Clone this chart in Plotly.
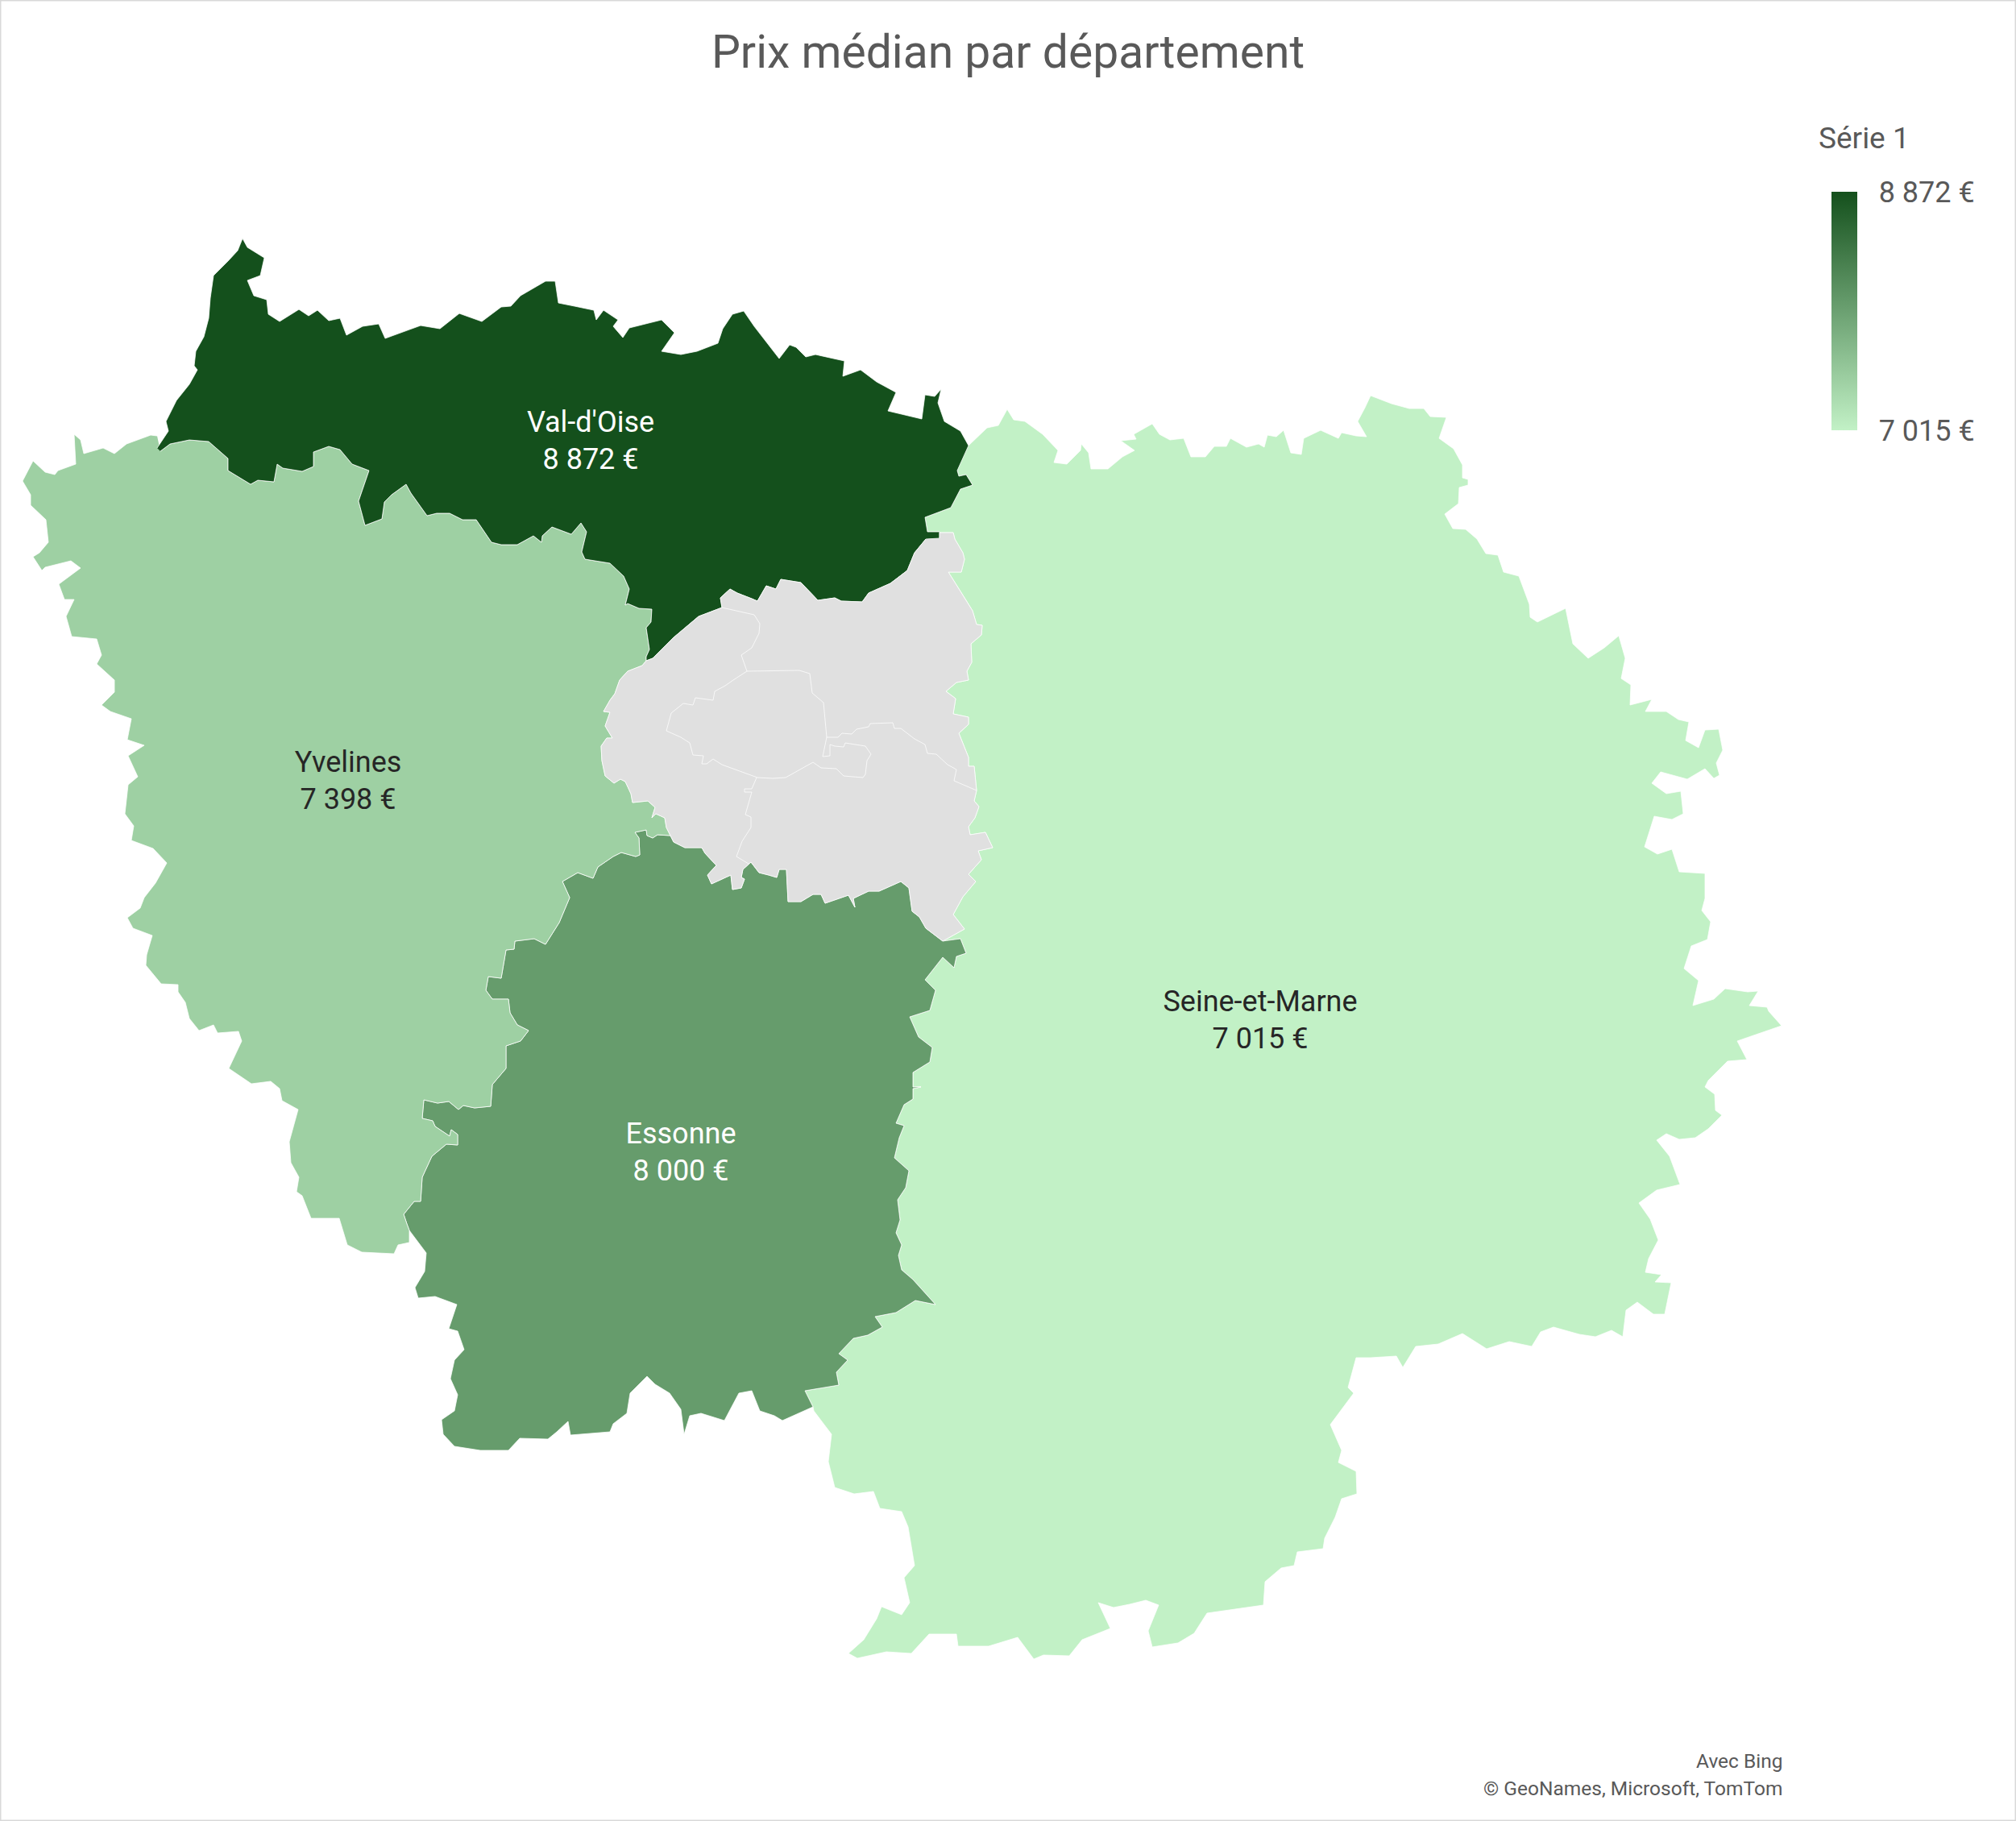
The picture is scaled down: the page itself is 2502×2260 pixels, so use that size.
import plotly.graph_objects as go
from plotly.colors import sample_colorscale

# Departments with a value
departments = ["Val-d'Oise", "Yvelines", "Essonne", "Seine-et-Marne"]
prices = [8872, 7398, 8000, 7015]
label_x = [733, 432, 845, 1564]
label_y = [550, 972, 1433, 1269]
scale_low = "#C2F1C6"
scale_high = "#14501C"

# Boundary arcs in projected map units (x east, y south)
vo_north = [(195,556),(209,535),(206,523),(219,497),(235,477),(245,459),(241,454),(243,436),(253,418),(259,395),(261,370),(265,342),(283,324),(295,311),(301,296),(307,307),(328,320),(323,342),(307,348),(315,367),(331,372),(333,390),(347,399),(371,384),(383,392),(394,385),(408,398),(422,395),(430,416),(450,405),(470,402),(478,420),(522,404),(546,408),(570,389),(598,399),(622,381),(634,380),(646,367),(677,349),(689,349),(693,376),(713,380),(737,385),(740,397),(749,385),(767,397),(761,405),(773,419),(781,407),(821,397),(837,413),(821,436),(845,440),(865,436),(891,426),(897,408),(909,390),(923,386),(936,405),(960,436),(967,445),(980,428),(988,431),(1000,443),(1012,440),(1048,448),(1046,467),(1068,459),(1088,474),(1112,487),(1102,510),(1144,520),(1148,490),(1160,492),(1168,483),(1164,500),(1172,523),(1192,535),(1202,553)]
vo_sm = [(1188,584),(1190,591),(1199,589),(1207,602),(1192,607),(1180,630),(1148,642),(1151,660),(1166,660),(1166,668)]
vo_grey = [(1149,669),(1135,686),(1126,708),(1105,724),(1078,736),(1070,747),(1044,746),(1036,742),(1015,745),(994,723),(969,719),(963,731),(951,727),(940,746),(933,743),(915,736),(906,731),(894,742),(896,754),(867,765),(835,792),(810,817),(802,820)]
vo_yv = [(802,815),(806,806),(802,779),(808,772),(809,756),(793,755),(779,749),(776,751),(781,731),(774,715),(757,699),(726,694),(722,685),(728,660),(721,649),(709,663),(685,654),(673,665),(672,673),(662,665),(642,676),(622,676),(610,673),(591,645),(574,645),(558,637),(542,637),(530,640),(510,612),(504,601),(486,614),(477,623),(474,644),(453,652),(445,622),(458,584),(437,576),(422,558),(408,554),(389,561),(389,579),(375,585),(351,581),(344,576),(340,598),(320,596),(311,601),(283,584),(283,569),(259,548),(235,546),(211,551),(199,560)]
yv_outer = [(195,541),(187,540),(157,551),(142,563),(128,556),(104,563),(100,546),(92,539),(94,576),(72,584),(68,589),(56,586),(41,572),(28,597),(38,614),(38,627),(57,645),(60,673),(49,686),(41,691),(52,708),(56,704),(88,696),(100,705),(73,725),(80,744),(92,744),(82,765),(89,790),(120,793),(126,813),(120,824),(142,844),(142,859),(126,875),(137,883),(163,892),(158,918),(179,925),(159,938),(171,964),(159,974),(155,1010),(166,1025),(163,1043),(190,1053),(207,1071),(193,1096),(179,1114),(174,1127),(158,1139),(165,1152),(189,1161),(182,1185),(181,1198),(200,1221),(221,1222),(221,1231),(230,1244),(235,1264),(247,1279),(265,1272),(270,1282),(296,1280),(300,1292),(284,1326),(312,1345),(336,1342),(347,1351),(350,1366),(370,1377),(359,1417),(361,1443),(371,1461),(368,1479),(375,1484),(386,1512),(421,1512),(431,1545),(449,1554),(489,1556),(494,1545),(508,1542)]
yv_ess = [(508,1527),(505,1519),(501,1507),(514,1491),(522,1491),(524,1461),(536,1435),(554,1420),(568,1421),(568,1408),(560,1402),(558,1410),(540,1398),(537,1391),(524,1388),(526,1365),(543,1369),(557,1367),(569,1377),(575,1372),(589,1375),(609,1373),(611,1346),(628,1326),(628,1298),(646,1292),(656,1279),(642,1272),(633,1257),(631,1240),(611,1240),(603,1229),(606,1212),(622,1214),(628,1179),(638,1178),(639,1168),(663,1165),(677,1172),(694,1145),(707,1114),(698,1094),(717,1083),(736,1090),(742,1076),(761,1063),(771,1058),(789,1063),(794,1061),(793,1040),(788,1033),(802,1030),(803,1037),(810,1040),(816,1036),(832,1037)]
yv_grey = [(802,820),(797,826),(779,833),(769,844),(763,861),(757,869),(749,883),(757,884),(751,901),(760,916),(753,916),(746,926),(747,944),(751,963),(762,972),(770,967),(776,970),(783,985),(785,996),(804,994),(813,1002),(809,1015),(814,1010),(825,1015),(827,1027),(832,1037)]
grey_ess = [(836,1045),(850,1052),(871,1052),(875,1059),(889,1074),(878,1086),(883,1097),(907,1086),(909,1104),(920,1102),(924,1091),(920,1089),(922,1079),(932,1070),(942,1083),(954,1086),(964,1089),(967,1079),(976,1079),(978,1119),(994,1119),(1009,1110),(1019,1110),(1024,1121),(1053,1111),(1061,1126),(1059,1115),(1078,1106),(1091,1106),(1118,1094),(1128,1102),(1132,1131),(1141,1138),(1149,1152),(1170,1168)]
grey_sm = [(1166,668),(1166,661),(1183,661),(1185,669),(1195,686),(1197,694),(1193,710),(1177,710),(1199,745),(1207,758),(1212,775),(1219,776),(1218,788),(1205,799),(1206,822),(1200,833),(1202,844),(1187,847),(1174,858),(1186,867),(1183,886),(1202,890),(1202,899),(1190,910),(1202,940),(1202,951),(1209,951),(1212,981),(1209,994),(1215,1001),(1210,1015),(1202,1026),(1204,1036),(1223,1033),(1232,1052),(1214,1056),(1218,1067),(1202,1085),(1211,1094),(1195,1113),(1183,1135),(1197,1153),(1170,1168)]
sm_outer = [(1202,553),(1225,531),(1239,528),(1250,508),(1258,521),(1272,523),(1294,539),(1313,559),(1308,574),(1324,576),(1341,559),(1342,551),(1351,562),(1354,582),(1375,582),(1393,567),(1408,559),(1391,547),(1410,545),(1407,539),(1430,526),(1439,539),(1452,546),(1469,544),(1478,567),(1496,567),(1507,554),(1522,554),(1527,544),(1547,555),(1562,551),(1569,555),(1573,540),(1584,542),(1593,534),(1602,562),(1615,564),(1618,544),(1639,534),(1661,544),(1665,537),(1683,541),(1696,542),(1685,523),(1694,506),(1701,491),(1727,501),(1749,507),(1767,507),(1775,517),(1795,518),(1786,544),(1804,557),(1815,577),(1815,593),(1822,595),(1822,602),(1811,605),(1810,625),(1793,638),(1803,656),(1819,657),(1833,669),(1844,687),(1859,689),(1866,710),(1885,715),(1898,750),(1899,766),(1908,772),(1943,755),(1952,799),(1971,817),(1991,804),(2009,789),(2017,817),(2012,842),(2024,850),(2023,875),(2050,868),(2042,883),(2068,883),(2083,893),(2096,896),(2092,919),(2108,928),(2116,906),(2133,905),(2138,931),(2130,947),(2134,962),(2127,966),(2116,954),(2094,967),(2061,958),(2050,972),(2068,985),(2086,982),(2089,1010),(2075,1017),(2053,1013),(2041,1051),(2057,1060),(2075,1054),(2084,1082),(2116,1084),(2116,1115),(2112,1130),(2123,1144),(2119,1166),(2099,1174),(2090,1202),(2108,1217),(2101,1248),(2127,1240),(2141,1227),(2169,1231),(2182,1230),(2171,1248),(2193,1250),(2195,1255),(2211,1273),(2156,1292),(2168,1315),(2144,1317),(2120,1341),(2116,1349),(2128,1358),(2129,1378),(2137,1384),(2120,1401),(2104,1412),(2084,1414),(2068,1407),(2056,1415),(2072,1435),(2085,1470),(2056,1477),(2034,1493),(2048,1513),(2058,1539),(2046,1562),(2042,1579),(2062,1582),(2054,1591),(2074,1592),(2066,1631),(2052,1631),(2032,1616),(2018,1626),(2014,1659),(2000,1651),(1980,1659),(1960,1656),(1928,1647),(1912,1653),(1901,1671),(1873,1665),(1845,1674),(1815,1655),(1785,1668),(1757,1671),(1741,1697),(1733,1683),(1701,1685),(1683,1685),(1673,1722),(1680,1729),(1651,1768),(1665,1800),(1661,1815),(1683,1826),(1684,1854),(1665,1860),(1657,1883),(1644,1909),(1642,1922),(1610,1926),(1606,1943),(1590,1946),(1570,1963),(1568,1992),(1498,2002),(1482,2027),(1462,2039),(1430,2044),(1425,2024),(1438,1992),(1422,1986),(1402,1991),(1382,1995),(1363,1989),(1378,2021),(1343,2035),(1327,2055),(1295,2054),(1283,2059),(1263,2032),(1227,2043),(1189,2043),(1187,2028),(1153,2028),(1131,2052),(1100,2050),(1064,2058),(1053,2052),(1072,2035),(1088,2009),(1094,1994),(1119,2004),(1129,1989),(1122,1958),(1135,1943),(1127,1895),(1119,1876),(1092,1872),(1084,1851),(1060,1854),(1036,1846),(1028,1814),(1032,1780),(1010,1751),(1009,1746)]
ess_sm = [(1009,1746),(999,1726),(1041,1719),(1038,1703),(1052,1688),(1041,1680),(1059,1661),(1077,1657),(1095,1647),(1086,1634),(1112,1629),(1136,1614),(1161,1619),(1133,1588),(1119,1576),(1115,1558),(1119,1545),(1112,1530),(1117,1514),(1114,1489),(1124,1474),(1128,1453),(1110,1437),(1116,1412),(1122,1397),(1112,1394),(1122,1371),(1133,1364),(1133,1351),(1143,1349),(1133,1349),(1133,1331),(1154,1318),(1157,1300),(1140,1287),(1129,1262),(1154,1254),(1161,1229),(1148,1216),(1170,1188),(1184,1201),(1187,1187),(1199,1183),(1192,1165),(1170,1168)]
ess_south = [(1009,1746),(971,1763),(961,1757),(943,1751),(933,1726),(917,1729),(899,1763),(870,1754),(856,1757),(849,1780),(845,1749),(831,1729),(813,1718),(803,1708),(782,1729),(778,1754),(761,1767),(757,1777),(708,1781),(705,1764),(691,1777),(680,1786),(645,1785),(631,1800),(596,1800),(564,1795),(550,1780),(548,1762),(564,1751),(568,1731),(559,1711),(564,1688),(576,1675),(568,1652),(557,1649),(567,1619),(540,1609),(519,1611),(515,1598),(527,1578),(529,1555),(519,1542),(508,1527)]

# Inner limits of the small departments (no value)
inner_93_92 = [(896,754),(936,763),(943,774),(942,786),(933,804),(920,813),(927,833)]
inner_paris = [(927,833),(992,832),(1005,836),(1008,860),(1022,872),(1026,915),(1021,939),(1030,938),(1030,924),(1036,926),(1047,927),(1049,922),(1074,926),(1081,936),(1076,944),(1074,961),(1071,965),(1047,963),(1038,954),(1019,953),(1009,946),(975,965),(959,966),(940,965),(896,949),(885,942),(877,948),(871,948),(873,938),(860,937),(856,922),(845,915),(827,907),(833,885),(848,873),(860,875),(863,866),(885,869),(887,858),(900,851),(910,844),(927,833)]
inner_93_94 = [(1026,915),(1040,915),(1045,910),(1057,911),(1063,905),(1078,902),(1080,898),(1108,897),(1110,904),(1118,904),(1135,917),(1148,924),(1151,935),(1162,936),(1176,949),(1187,955),(1184,969),(1195,974),(1212,981)]
inner_92_94 = [(939,965),(933,979),(924,979),(924,983),(933,983),(925,1011),(932,1014),(932,1027),(921,1044),(914,1063),(929,1072)]


def ring(*arcs):
    pts = [p for arc in arcs for p in arc]
    return [p[0] for p in pts], [p[1] for p in pts]


def rev(arc):
    return list(reversed(arc))


def euros(v):
    return f"{v:,}".replace(",", " ") + " €"


colorscale = [[0, scale_low], [1, scale_high]]
vmin, vmax = min(prices), max(prices)
colour = {d: sample_colorscale(colorscale, (p - vmin) / (vmax - vmin))[0] for d, p in zip(departments, prices)}

rings = {
    "Seine-et-Marne": ring(sm_outer, ess_sm, rev(grey_sm), rev(vo_sm)),
    "Essonne": ring(ess_south, yv_ess, grey_ess, rev(ess_sm)),
    "Yvelines": ring(yv_outer, yv_ess, rev(yv_grey), vo_yv),
    "Val-d'Oise": ring(vo_north, vo_sm, vo_grey, vo_yv),
}

fig = go.Figure()
for name in ["Seine-et-Marne", "Essonne", "Yvelines", "Val-d'Oise"]:
    xs, ys = rings[name]
    fig.add_trace(go.Scatter(x=xs, y=ys, mode="lines", fill="toself", fillcolor=colour[name],
                             line=dict(color="white", width=0.75), hoverinfo="skip", showlegend=False))
xs, ys = ring(vo_grey, yv_grey, grey_ess, rev(grey_sm))
fig.add_trace(go.Scatter(x=xs, y=ys, mode="lines", fill="toself", fillcolor="#E0E0E0",
                         line=dict(color="white", width=0.75), hoverinfo="skip", showlegend=False))
for arc in [inner_93_92, inner_paris, inner_93_94, inner_92_94]:
    xs, ys = ring(arc)
    fig.add_trace(go.Scatter(x=xs, y=ys, mode="lines", line=dict(color="white", width=0.75),
                             hoverinfo="skip", showlegend=False))

text_colours = ["#FFFFFF", "#262626", "#FFFFFF", "#262626"]
fig.add_trace(go.Scatter(
    x=label_x, y=label_y, mode="markers+text",
    text=[f"{d}<br>{euros(p)}" for d, p in zip(departments, prices)],
    textposition="middle center",
    textfont=dict(family="Roboto", size=36, color=text_colours),
    marker=dict(size=1, opacity=0, color=prices, cmin=vmin, cmax=vmax, colorscale=colorscale,
                colorbar=dict(
                    thickness=32, thicknessmode="pixels", len=296, lenmode="pixels",
                    x=2273 / 2502, xanchor="left", xpad=0, y=1 - 238 / 2260, yanchor="top", ypad=0,
                    outlinewidth=0, tickvals=[vmin, vmax], ticktext=[euros(vmin), euros(vmax)],
                    ticks="outside", ticklen=20, tickcolor="rgba(0,0,0,0)",
                    tickfont=dict(family="Roboto", size=36, color="#595959"))),
    hoverinfo="skip", showlegend=False))

fig.update_layout(
    width=2502, height=2260, margin=dict(l=0, r=0, t=0, b=0),
    paper_bgcolor="white", plot_bgcolor="white",
    title=dict(text="Prix médian par département", x=0.5, xanchor="center", y=1 - 64 / 2260, yanchor="middle",
               font=dict(family="Roboto", size=57, color="#595959")),
    xaxis=dict(range=[0, 2502], visible=False),
    yaxis=dict(range=[2260, 0], visible=False),
    annotations=[
        dict(text="Série 1", x=2255 / 2502, y=1 - 171 / 2260, xref="paper", yref="paper", xanchor="left",
             yanchor="middle", showarrow=False, font=dict(family="Roboto", size=37, color="#595959")),
        dict(text="Avec Bing", x=2215 / 2502, y=1 - 2185 / 2260, xref="paper", yref="paper", xanchor="right",
             yanchor="middle", showarrow=False, font=dict(family="Roboto", size=24.5, color="#595959")),
        dict(text="© GeoNames, Microsoft, TomTom", x=2214 / 2502, y=1 - 2219 / 2260, xref="paper", yref="paper",
             xanchor="right", yanchor="middle", showarrow=False, font=dict(family="Roboto", size=24.5, color="#595959")),
    ],
    shapes=[dict(type="rect", xref="paper", yref="paper", x0=0, x1=1, y0=0, y1=1,
                 line=dict(color="#D9D9D9", width=3), fillcolor="rgba(0,0,0,0)")],
)

fig.write_html("out.html", config={"displayModeBar": False}, post_script="document.body.style.margin='0';")
